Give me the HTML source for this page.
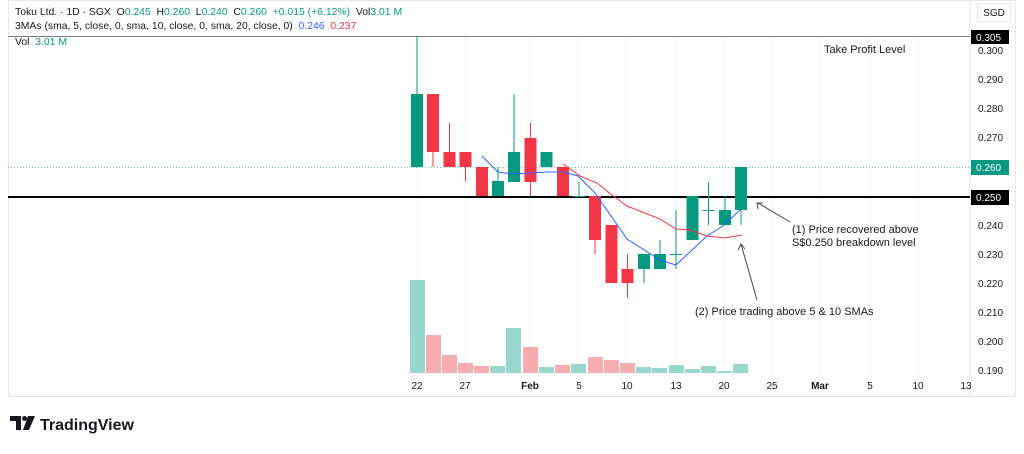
<!DOCTYPE html>
<html><head><meta charset="utf-8"><style>
body{margin:0;background:#fff;width:1024px;height:449px;overflow:hidden;font-family:"Liberation Sans",sans-serif}
</style></head><body>
<svg width="1024" height="449" viewBox="0 0 1024 449" xmlns="http://www.w3.org/2000/svg" font-family="Liberation Sans, sans-serif">
<rect x="8.5" y="0.5" width="1007" height="396" fill="#fff" stroke="#e8e8e8"/>
<line x1="970" y1="0" x2="970" y2="396" stroke="#e0e3eb"/>
<g stroke="#f0f3fa">
<line x1="417" y1="36" x2="417" y2="375"/><line x1="465" y1="36" x2="465" y2="375"/><line x1="530" y1="36" x2="530" y2="375"/><line x1="579" y1="36" x2="579" y2="375"/><line x1="627" y1="36" x2="627" y2="375"/><line x1="676" y1="36" x2="676" y2="375"/><line x1="724" y1="36" x2="724" y2="375"/><line x1="772" y1="36" x2="772" y2="375"/><line x1="820" y1="36" x2="820" y2="375"/><line x1="870" y1="36" x2="870" y2="375"/><line x1="918" y1="36" x2="918" y2="375"/>
</g>
<text x="15" y="15" font-size="10.4" fill="#131722" xml:space="preserve">Toku Ltd. · 1D · SGX  O<tspan fill="#089981">0.245</tspan>  H<tspan fill="#089981">0.260</tspan>  L<tspan fill="#089981">0.240</tspan>  C<tspan fill="#089981">0.260</tspan>  <tspan fill="#089981">+0.015 (+6.12%)</tspan>  Vol<tspan fill="#089981">3.01 M</tspan></text>
<text x="15" y="29" font-size="10.4" fill="#131722" xml:space="preserve">3MAs (sma, 5, close, 0, sma, 10, close, 0, sma, 20, close, 0)  <tspan fill="#2962ff">0.246</tspan>  <tspan fill="#f23645">0.237</tspan></text>
<text x="15" y="45" font-size="10.4" fill="#131722" xml:space="preserve">Vol  <tspan fill="#089981">3.01 M</tspan></text>
<line x1="8" y1="36.5" x2="970" y2="36.5" stroke="#787b86" stroke-width="1"/>
<line x1="8" y1="197" x2="970" y2="197" stroke="#000" stroke-width="2"/>
<line x1="8" y1="167.5" x2="970" y2="167.5" stroke="#089981" stroke-dasharray="1,2" opacity="0.6"/>
<g opacity="0.9">
<rect x="410" y="280" width="15" height="93" fill="#8dd3c9"/>
<rect x="426" y="335" width="15" height="38" fill="#f7a5a7"/>
<rect x="442" y="355" width="15" height="18" fill="#f7a5a7"/>
<rect x="458" y="363" width="15" height="10" fill="#f7a5a7"/>
<rect x="474" y="366" width="15" height="7" fill="#f7a5a7"/>
<rect x="490" y="366" width="15" height="7" fill="#8dd3c9"/>
<rect x="506" y="328" width="15" height="45" fill="#8dd3c9"/>
<rect x="523" y="347" width="15" height="26" fill="#f7a5a7"/>
<rect x="539" y="367" width="15" height="6" fill="#8dd3c9"/>
<rect x="555" y="365" width="15" height="8" fill="#f7a5a7"/>
<rect x="571" y="364" width="15" height="9" fill="#8dd3c9"/>
<rect x="588" y="357" width="15" height="16" fill="#f7a5a7"/>
<rect x="604" y="360" width="15" height="13" fill="#f7a5a7"/>
<rect x="620" y="363" width="15" height="10" fill="#f7a5a7"/>
<rect x="636" y="367" width="15" height="6" fill="#8dd3c9"/>
<rect x="652" y="368" width="15" height="5" fill="#8dd3c9"/>
<rect x="669" y="365" width="15" height="8" fill="#8dd3c9"/>
<rect x="685" y="369" width="15" height="4" fill="#8dd3c9"/>
<rect x="701" y="366" width="15" height="7" fill="#8dd3c9"/>
<rect x="717" y="371" width="15" height="2" fill="#8dd3c9"/>
<rect x="733" y="364" width="15" height="9" fill="#8dd3c9"/>
</g>
<g stroke-width="1">
<line x1="417" y1="36" x2="417" y2="167" stroke="#089981"/><rect x="411" y="94" width="12" height="73" fill="#089981"/>
<line x1="433" y1="94" x2="433" y2="167" stroke="#f23645"/><rect x="427" y="94" width="12" height="58" fill="#f23645"/>
<line x1="449.5" y1="123" x2="449.5" y2="167" stroke="#f23645"/><rect x="443.5" y="152" width="12" height="15" fill="#f23645"/>
<line x1="465.5" y1="152" x2="465.5" y2="181" stroke="#f23645"/><rect x="459.5" y="152" width="12" height="15" fill="#f23645"/>
<rect x="476" y="167" width="12" height="29" fill="#f23645"/>
<line x1="498" y1="167" x2="498" y2="196" stroke="#089981"/><rect x="492" y="181" width="12" height="15" fill="#089981"/>
<line x1="514" y1="94" x2="514" y2="182" stroke="#089981"/><rect x="508" y="152" width="12" height="30" fill="#089981"/>
<line x1="530.5" y1="123" x2="530.5" y2="196" stroke="#f23645"/><rect x="524.5" y="138" width="12" height="44" fill="#f23645"/>
<rect x="540.5" y="152" width="12" height="15" fill="#089981"/>
<rect x="557" y="167" width="12" height="29" fill="#f23645"/>
<line x1="579" y1="182" x2="579" y2="197" stroke="#089981"/><line x1="573" y1="196.5" x2="585" y2="196.5" stroke="#089981"/>
<line x1="595" y1="196" x2="595" y2="254" stroke="#f23645"/><rect x="589" y="196" width="12" height="44" fill="#f23645"/>
<rect x="605.5" y="225" width="12" height="58" fill="#f23645"/>
<line x1="627.5" y1="254" x2="627.5" y2="298" stroke="#f23645"/><rect x="621.5" y="269" width="12" height="14" fill="#f23645"/>
<line x1="644" y1="254" x2="644" y2="283" stroke="#089981"/><rect x="638" y="254" width="12" height="15" fill="#089981"/>
<line x1="660" y1="240" x2="660" y2="269" stroke="#089981"/><rect x="654" y="254" width="12" height="15" fill="#089981"/>
<line x1="676" y1="210" x2="676" y2="269" stroke="#089981"/><line x1="670" y1="254.5" x2="682" y2="254.5" stroke="#089981"/>
<rect x="686.5" y="196" width="12" height="44" fill="#089981"/>
<line x1="708.5" y1="182" x2="708.5" y2="225" stroke="#089981"/><line x1="702.5" y1="210.5" x2="714.5" y2="210.5" stroke="#089981"/>
<line x1="725" y1="196" x2="725" y2="225" stroke="#089981"/><rect x="719" y="210" width="12" height="15" fill="#089981"/>
<line x1="741" y1="167" x2="741" y2="225" stroke="#089981"/><rect x="735" y="167" width="12" height="43" fill="#089981"/>
</g>
<polyline fill="none" stroke="#2962ff" stroke-width="1" points="482,156 498,172 513,174 547,172 563,172 578,176 595,193 627,239 660,260 676,265 707,236 723,226 740,210"/>
<polyline fill="none" stroke="#f23645" stroke-width="1" points="563,164 580,176 597,183 612,195 627,206 660,219 676,229 690,230 707,236 725,238 742,235"/>
<text x="824" y="53" font-size="11" fill="#131722">Take Profit Level</text>
<text x="792" y="233" font-size="11" fill="#131722">(1) Price recovered above</text>
<text x="792" y="246" font-size="11" fill="#131722">S$0.250 breakdown level</text>
<text x="695" y="315" font-size="11" fill="#131722">(2) Price trading above 5 &amp; 10 SMAs</text>
<g stroke="#434651" fill="none" stroke-width="1">
<line x1="790" y1="222" x2="758" y2="203"/><polyline points="758,209 757,203 763,203"/>
<line x1="757" y1="300" x2="741" y2="244"/><polyline points="738,250 741,244 745,249"/>
</g>
<rect x="977.5" y="3.5" width="33" height="18" rx="2" fill="#fff" stroke="#e8e8e8"/>
<text x="994" y="16" font-size="10" fill="#131722" text-anchor="middle">SGD</text>
<g font-size="10" fill="#131722">
<text x="978" y="54">0.300</text><text x="978" y="83">0.290</text><text x="978" y="112">0.280</text><text x="978" y="141">0.270</text>
<text x="978" y="229">0.240</text><text x="978" y="258">0.230</text><text x="978" y="287">0.220</text><text x="978" y="316">0.210</text><text x="978" y="345">0.200</text><text x="978" y="374">0.190</text>
</g>
<rect x="971" y="30" width="38" height="14" fill="#000"/><text x="976" y="41" font-size="10" fill="#fff">0.305</text>
<rect x="971" y="160" width="38" height="15" fill="#089981"/><text x="976" y="171" font-size="10" fill="#fff">0.260</text>
<rect x="971" y="190" width="38" height="15" fill="#000"/><text x="976" y="201" font-size="10" fill="#fff">0.250</text>
<g font-size="10" fill="#131722" text-anchor="middle">
<text x="417" y="389">22</text><text x="465" y="389">27</text><text x="530" y="389" font-weight="bold">Feb</text><text x="579" y="389">5</text><text x="627" y="389">10</text><text x="676" y="389">13</text><text x="724" y="389">20</text><text x="772" y="389">25</text><text x="820" y="389" font-weight="bold">Mar</text><text x="870" y="389">5</text><text x="918" y="389">10</text><text x="966" y="389">13</text>
</g>
<g fill="#131722">
<path d="M10 416h11v14h-5v-9h-6z"/><circle cx="24.5" cy="418.5" r="2.5"/><path d="M28 416h7l-6 14h-6z"/>
</g>
<text x="40" y="430" font-size="16" font-weight="bold" fill="#131722">TradingView</text>
</svg>
</body></html>
